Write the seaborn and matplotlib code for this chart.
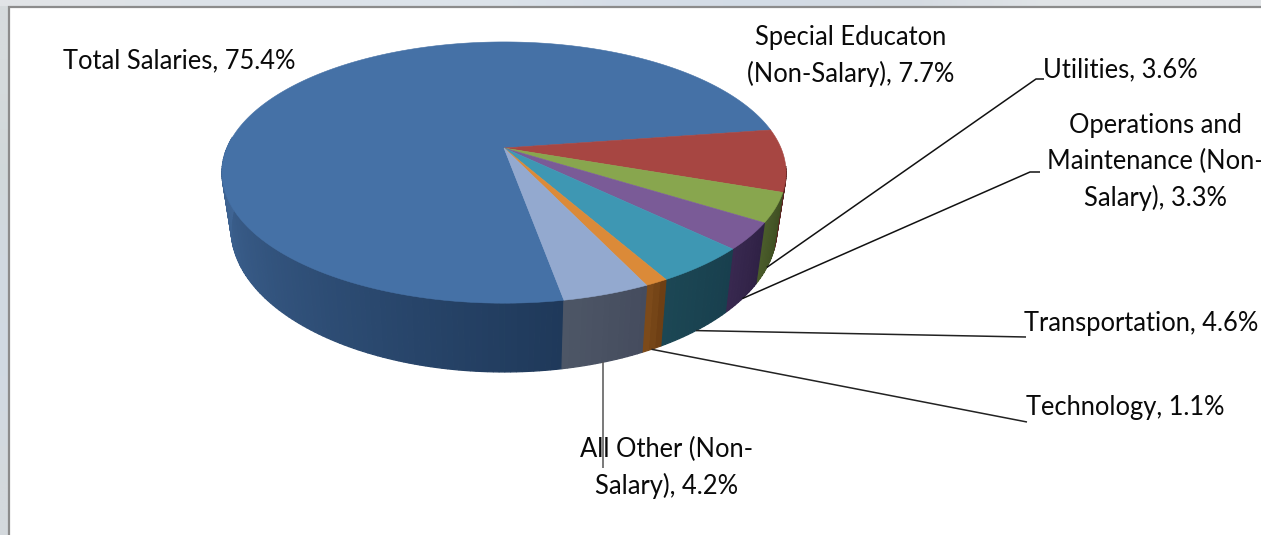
import numpy as np
import matplotlib
matplotlib.use("Agg")
import matplotlib.pyplot as plt
import seaborn as sns

categories = ["Total Salaries", "Special Education", "Utilities", "Operations and Maintenance",
              "Transportation", "Technology", "All Other"]
shares = [75.4, 7.7, 3.6, 3.3, 4.6, 1.1, 4.2]
top_colors = ["#4571A6", "#A74642", "#88A64E", "#7A5B97", "#3E97B3", "#DB8A38", "#93A9CF"]
side_near = ["#1F395A", "#5A2220", "#3F4E22", "#2F2145", "#183F4E", "#6E3F14", "#454C5E"]
side_far = ["#42699A", "#5A2220", "#4A5C2A", "#38284F", "#1C4754", "#7C4A1A", "#4D5666"]
label_text = ["Total Salaries, 75.4%", "Special Educaton\n(Non-Salary), 7.7%", "Utilities, 3.6%",
              "Operations and\nMaintenance (Non-\nSalary), 3.3%", "Transportation, 4.6%",
              "Technology, 1.1%", "All Other (Non-\nSalary), 4.2%"]
strip_top = ["#E1E4E7", "#DCE2E9", "#DDE3EA", "#DCE3EA", "#D6DEE8", "#D3DCE6", "#D5DBE2", "#E1E5E8", "#E1E4E7"]
strip_left = ["#D6DBDD", "#D1D8DA", "#D0D9E1", "#D1DAE3", "#D4D9DD"]

sns.set_theme(style="white")
plt.rcParams["font.family"] = ["Lato", "DejaVu Sans"]

W, H = 1261, 535
fig = plt.figure(figsize=(W / 100, H / 100), dpi=100, facecolor="white")
ax = fig.add_axes([0, 0, 1, 1])
ax.set_xlim(0, W)
ax.set_ylim(H, 0)
ax.axis("off")

# Window chrome behind the chart panel
rgb = lambda seq: np.array([matplotlib.colors.to_rgb(c) for c in seq])
ax.imshow(rgb(strip_top)[None, :, :], extent=[0, W, 6, 0], aspect="auto", interpolation="bilinear", zorder=0)
ax.imshow(rgb(strip_left)[:, None, :], extent=[0, 8, H, 6], aspect="auto", interpolation="bilinear", zorder=0)
ax.set_xlim(0, W)
ax.set_ylim(H, 0)
ax.plot([8.5, 8.5, W], [H, 6.5, 6.5], color="#8C8C8C", lw=1.6, solid_joinstyle="miter", zorder=1)

# Perspective projection of the pie's upper and lower discs
CX = 504
def upper(theta):
    s, c = np.sin(theta), np.cos(theta)
    w = 1 + 0.188 * s
    return CX + 277 * c / w, 148 - 126 * s / w

def lower(theta):
    s, c = np.sin(theta), np.cos(theta)
    w = 1 + 0.188 * s
    return CX + 268 * c / w, 202 - 138 * s / w

# The published shares round to 99.9, so normalise them onto the full circle
sweep = np.deg2rad(np.asarray(shares) / np.sum(shares) * 360)
START = np.deg2rad(8.45) + sweep[0]
edges = START - np.concatenate([[0], np.cumsum(sweep)])
VIS_LOW, VIS_HIGH = np.deg2rad(-185), np.deg2rad(-8)

for i in range(len(shares)):
    a0, a1 = edges[i + 1], edges[i]
    # Wrap the largest slice so its front part lands in the visible range
    if i == 0:
        a0 -= 2 * np.pi
        a1 -= 2 * np.pi
    lo, hi = max(a0, VIS_LOW), min(a1, VIS_HIGH)
    if hi <= lo:
        continue
    n = max(3, int(np.degrees(hi - lo)))
    ramp = sns.blend_palette([side_near[i], side_far[i]], n)
    ts = np.linspace(hi, lo, n + 1)
    for j in range(n):
        t = np.linspace(ts[j], ts[j + 1], 3)
        xu, yu = upper(t)
        xl, yl = lower(t)
        ax.fill(np.r_[xu, xl[::-1]], np.r_[yu, yl[::-1]], facecolor=ramp[j], edgecolor=ramp[j],
                lw=0.9, zorder=2 + 0.001 * i)

for i in range(len(shares)):
    t = np.linspace(edges[i], edges[i + 1], 300)
    x, y = upper(t)
    ax.fill(np.r_[CX, x], np.r_[148, y], facecolor=top_colors[i], edgecolor=top_colors[i],
            lw=0.4, zorder=3)

# Leader lines run from the lower rim at each slice's middle angle
mids = (edges[:-1] + edges[1:]) / 2
routes = {2: [(1036, 79), (1044, 79)], 3: [(1030, 172), (1040, 172)],
          4: [(1026, 337)], 5: [(1027, 422)], 6: [(0, 468)]}
line_color = {2: "#111111", 3: "#111111", 4: "#222222", 5: "#222222", 6: "#555555"}
for i, pts in routes.items():
    x0, y0 = lower(mids[i])
    if i == 6:
        pts = [(x0, pts[0][1])]
    xs = [x0] + [p[0] for p in pts]
    ys = [y0] + [p[1] for p in pts]
    ax.plot(xs, ys, color=line_color[i], lw=1.1, zorder=4, solid_capstyle="butt")

layout = [(63, 61, "left"), (851, 56, "center"), (1043, 70, "left"), (1155, 162, "center"),
          (1024, 323, "left"), (1026, 408, "left"), (667, 468, "center")]
for (x, y, ha), text in zip(layout, label_text):
    ax.text(x, y, text, ha=ha, va="center", multialignment="center", fontsize=18.4,
            color="#0A0A0A", linespacing=1.52, zorder=5)

fig.savefig("out.png", dpi=100, facecolor="white")
